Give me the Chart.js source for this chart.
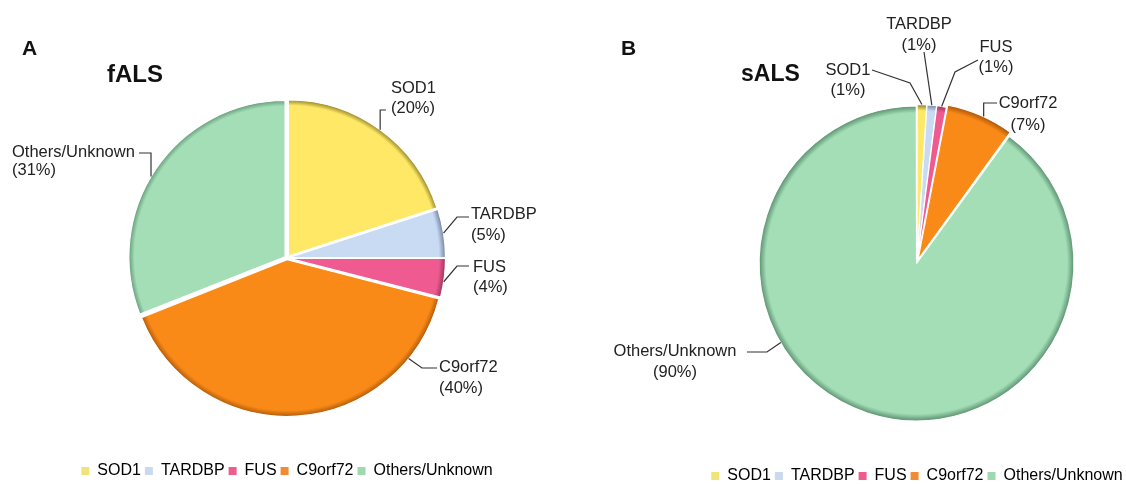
<!DOCTYPE html>
<html>
<head>
<meta charset="utf-8">
<script src="https://cdn.jsdelivr.net/npm/chart.js@4/dist/chart.umd.min.js"></script>
<style>
  html, body { margin: 0; padding: 0; background: #fff; }
  body { width: 1126px; height: 484px; overflow: hidden; position: relative; }
  canvas { position: absolute; top: 0; }
  #famChart { left: 0; }
  #sporChart { left: 574px; }
</style>
</head>
<body>
<canvas id="famChart" width="574" height="489"></canvas>
<canvas id="sporChart" width="686" height="494"></canvas>
<script>
// Genes implicated in ALS and their share of cases (%)
const genes = ['SOD1', 'TARDBP', 'FUS', 'C9orf72', 'Others/Unknown'];
const familialShare = [20, 5, 4, 40, 31];
const sporadicShare = [1, 1, 1, 7, 90];

// Slice colours: flat face colour and the darker rim shade
const faceColors = ['#FEE866', '#C9DAF3', '#EF5B91', '#FA8A17', '#A3DEB6'];
const rimColors  = ['#9C8A2A', '#8292AE', '#A93A63', '#B9600C', '#6A9F7E'];
const legendColors = ['#EEE47A', '#CBD9EF', '#EE5C8E', '#F08C36', '#A0D8B0'];

const FONT = "'Liberation Sans', Arial, Helvetica, sans-serif";
Chart.defaults.font.family = FONT;
Chart.defaults.color = '#222';

const sum = arr => arr.reduce((a, b) => a + b, 0);

// Chart.js moves an exploded arc by offset/4 * (1 + fix); invert that so
// the slice moves by the wanted number of pixels.
function offsetFor(values, i, shiftPx) {
  const circ = values[i] / sum(values) * Math.PI * 2;
  const fix = 1 - Math.sin(Math.min(Math.PI, circ));
  return 4 * shiftPx / (1 + fix);
}

// Face colour with a darker bevel towards the outer rim
function sliceFill(ctx, radius) {
  const chart = ctx.chart;
  const i = ctx.dataIndex;
  const area = chart.chartArea;
  if (!area || i === undefined) return faceColors[i] || faceColors[0];
  const cx = (area.left + area.right) / 2;
  const cy = (area.top + area.bottom) / 2;
  const g = chart.ctx.createRadialGradient(cx, cy, 0, cx, cy, radius);
  g.addColorStop(0, faceColors[i]);
  g.addColorStop(0.9, faceColors[i]);
  g.addColorStop(0.965, faceColors[i]);
  g.addColorStop(1, rimColors[i]);
  return g;
}

// Leader lines, callout text and panel headings
const calloutPlugin = {
  id: 'callouts',
  afterDatasetsDraw(chart, args, opts) {
    const ctx = chart.ctx;
    const meta = chart.getDatasetMeta(0);
    const values = chart.data.datasets[0].data;
    const ox = opts.originX;
    ctx.save();
    ctx.strokeStyle = '#333';
    ctx.lineWidth = 1.2;
    ctx.fillStyle = '#222';
    ctx.font = '16.5px ' + FONT;
    ctx.textBaseline = 'middle';
    opts.items.forEach(item => {
      const arc = meta.data[item.index];
      const p = arc.getProps(['x', 'y', 'startAngle', 'endAngle', 'outerRadius', 'circumference'], true);
      const off = (arc.options.offset || 0) / 4;
      const fix = 1 - Math.sin(Math.min(Math.PI, p.circumference || 0));
      const half = (p.startAngle + p.endAngle) / 2;
      const move = off * (1 + fix);
      const cx = p.x + Math.cos(half) * move;
      const cy = p.y + Math.sin(half) * move;
      const a = p.startAngle + (p.endAngle - p.startAngle) * item.t;
      let px = cx + Math.cos(a) * p.outerRadius;
      let py = cy + Math.sin(a) * p.outerRadius;
      ctx.beginPath();
      ctx.moveTo(px, py);
      item.path.forEach(([qx, qy]) => {
        px = qx == null ? px : qx - ox;
        py = qy == null ? py : qy;
        ctx.lineTo(px, py);
      });
      ctx.stroke();
      ctx.textAlign = item.align;
      const lines = [genes[item.index], '(' + values[item.index] + '%)'];
      lines.forEach((s, k) => ctx.fillText(s, item.x - ox, item.y + k * item.gap));
    });
    ctx.textAlign = 'left';
    opts.headings.forEach(h => {
      ctx.font = 'bold ' + h.size + 'px ' + FONT;
      ctx.fillStyle = '#111';
      ctx.fillText(h.text, h.x - ox, h.y);
    });
    ctx.restore();
  }
};

function makeChart(id, values, shifts, radius, padTop, callouts) {
  return new Chart(document.getElementById(id), {
    type: 'pie',
    data: {
      labels: genes,
      datasets: [{
        data: values,
        backgroundColor: c => sliceFill(c, radius),
        borderColor: '#ffffff',
        borderWidth: 1.2,
        offset: c => offsetFor(values, c.dataIndex, shifts[c.dataIndex]),
        radius: radius
      }]
    },
    options: {
      responsive: false,
      animation: false,
      layout: { padding: { top: padTop } },
      plugins: {
        tooltip: { enabled: false },
        legend: {
          position: 'bottom',
          labels: {
            font: { size: 16, family: FONT },
            color: '#222',
            boxWidth: 8,
            boxHeight: 8,
            padding: 4,
            generateLabels: chart => genes.map((g, i) => ({
              text: g,
              fillStyle: legendColors[i],
              strokeStyle: legendColors[i],
              lineWidth: 0,
              hidden: false,
              index: i
            }))
          }
        },
        callouts: callouts
      }
    },
    plugins: [calloutPlugin]
  });
}

// Familial ALS
makeChart('famChart', familialShare, [2.5, 2.5, 2.5, 2.5, 2.5], 156, 57, {
  originX: 0,
  headings: [
    { text: 'A', x: 22, y: 49, size: 21 },
    { text: 'fALS', x: 107, y: 75, size: 24 }
  ],
  items: [
    { index: 0, t: 0.5, path: [[null, 110], [386, 110]], x: 391, y: 88, gap: 20, align: 'left' },
    { index: 1, t: 0.5, path: [[457, 217], [469, 217]], x: 471, y: 214, gap: 21, align: 'left' },
    { index: 2, t: 0.6, path: [[457, 266], [469, 266]], x: 473, y: 267, gap: 20, align: 'left' },
    { index: 3, t: 0.17, path: [[422, 368], [437, 368]], x: 439, y: 367, gap: 21, align: 'left' },
    { index: 4, t: 0.47, path: [[null, 153], [139, 153]], x: 12, y: 152, gap: 18, align: 'left' }
  ]
});

// Sporadic ALS
makeChart('sporChart', sporadicShare, [1.5, 1.5, 1.5, 4, 3], 156, 60, {
  originX: 574,
  headings: [
    { text: 'B', x: 621, y: 49, size: 21 },
    { text: 'sALS', x: 741, y: 75, size: 23 }
  ],
  items: [
    { index: 0, t: 0.5, path: [[910, 83], [872, 70]], x: 848, y: 70, gap: 20, align: 'center' },
    { index: 1, t: 0.5, path: [[924, 52]], x: 919, y: 24, gap: 21, align: 'center' },
    { index: 2, t: 0.5, path: [[955, 72], [978, 60]], x: 996, y: 47, gap: 20, align: 'center' },
    { index: 3, t: 0.55, path: [[null, 103], [997, 103]], x: 1028, y: 103, gap: 22, align: 'center' },
    { index: 4, t: 0.63, path: [[767, 352], [747, 352]], x: 675, y: 351, gap: 21, align: 'center' }
  ]
});
</script>
</body>
</html>
